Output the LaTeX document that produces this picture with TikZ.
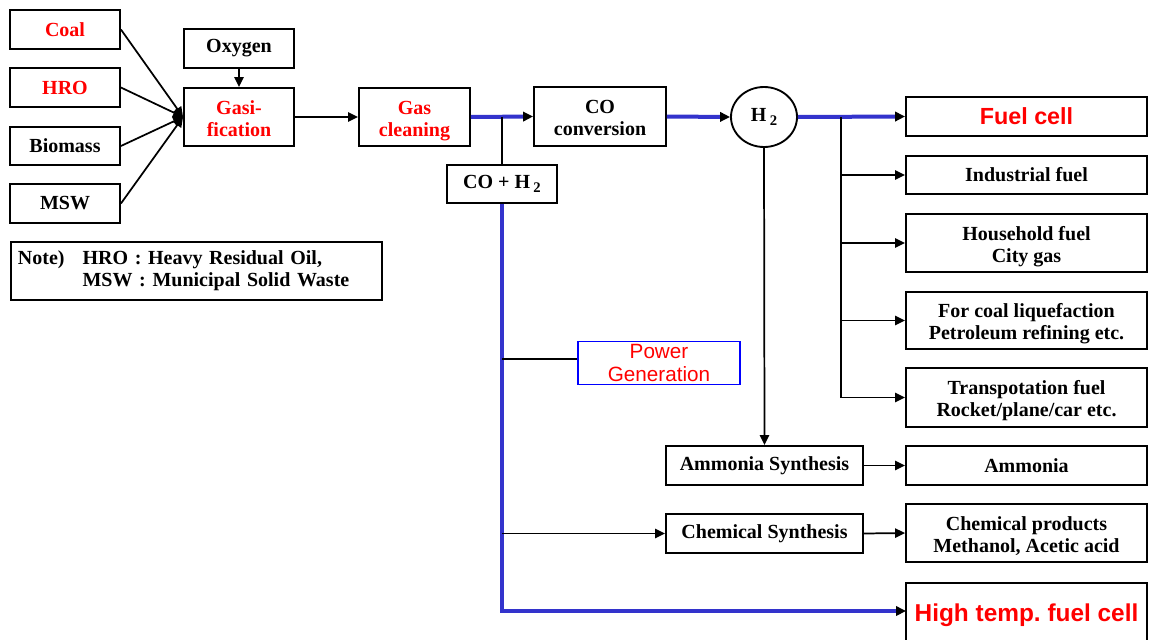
\documentclass[tikz,border=0pt]{standalone}
\usepackage{fontspec}
\setmainfont{Liberation Serif}
\setsansfont{Liberation Sans}
\usetikzlibrary{arrows.meta,shapes.geometric}
\definecolor{flowblue}{RGB}{51,51,204}
\definecolor{hot}{RGB}{255,0,0}
\definecolor{genblue}{RGB}{0,0,255}
\frenchspacing
\newcommand\boxfont{\fontsize{15}{16.5}\selectfont\bfseries}
\newcommand\bigsans{\fontsize{17.5}{20}\selectfont\sffamily\bfseries}
\newcommand\subtwo{\,\raisebox{-0.45ex}{\fontsize{11}{11}\selectfont 2}}
% two centred lines, set a little low while keeping the box size
\newcommand\twoline[2]{\raisebox{-2.8pt}[\height][\depth]{\begin{tabular}{@{}c@{}}#1\\#2\end{tabular}}}

\begin{document}
\begin{tikzpicture}[x=0.75pt,y=-0.75pt,
  box/.style={draw,line width=1.4pt,inner sep=0pt,align=center,font=\boxfont},
  sz/.style 2 args={minimum width=#1*0.75pt,minimum height=#2*0.75pt},
  hot/.style={text=hot},
  tip/.style={-{Triangle[length=7.5pt,width=7pt,color=black]}},
  link/.style={line width=1.3pt},
  arr/.style={link,tip},
  main/.style={line width=3pt,draw=flowblue},
  mainarr/.style={main,tip}]

\path[use as bounding box] (0,0) rectangle (1151,639);
\clip (0,0) rectangle (1151,639);

% feedstocks and gasifier
\node[box,sz={110}{39},hot] (coal) at (65,29.5) {Coal};
\node[box,sz={110}{39},hot] (hro) at (65,87.5) {HRO};
\node[box,sz={110}{38}] (bio) at (65,146) {Biomass};
\node[box,sz={110}{39}] (msw) at (65,203.5) {MSW};
\node[box,sz={110}{39}] (oxy) at (239,48.5) {Oxygen};
\node[box,sz={110}{58},hot] (gasi) at (239,117) {\twoline{Gasi-}{fication}};
\node[box,sz={111}{58},hot] (gascl) at (414.5,117) {\twoline{Gas}{cleaning}};

\node[box,sz={371}{58},text width=267.75pt,inner xsep=5.25pt,align=left,anchor=west] (note) at (10,271)
  {\begin{tabular}{@{}l@{\hspace{13.5pt}}l@{}}Note) & HRO : Heavy Residual Oil,\\ & MSW : Municipal Solid Waste\end{tabular}};

% syngas processing
\node[box,sz={132}{59}] (coconv) at (600,116.5) {\twoline{CO}{conversion}};
\node[box,sz={110}{38}] (coh) at (502,184) {CO + H\subtwo};
\node[draw,line width=1.4pt,ellipse,inner sep=0pt,sz={66}{60},font=\boxfont] (h2) at (764,117) {H\subtwo};

% hydrogen uses
\node[box,sz={241}{39},font=\bigsans,hot] (fuel) at (1026.5,116.5) {Fuel cell};
\node[box,sz={241}{38}] (ind) at (1026.5,175) {Industrial fuel};
\node[box,sz={241}{58}] (house) at (1026.5,243) {\twoline{Household fuel}{City gas}};
\node[box,sz={241}{57}] (liq) at (1026.5,320.5) {\twoline{For coal liquefaction}{Petroleum refining etc.}};
\node[box,sz={241}{59}] (trans) at (1026.5,397.5) {\twoline{Transpotation fuel}{Rocket/plane/car etc.}};

% synthesis routes
\node[box,sz={197}{39}] (ammsyn) at (764.5,465.5) {Ammonia Synthesis};
\node[box,sz={241}{39}] (amm) at (1026.5,465.5) {Ammonia};
\node[box,sz={197}{39}] (chemsyn) at (764.5,533.5) {Chemical Synthesis};
\node[box,sz={241}{58}] (chem) at (1026.5,533) {\twoline{Chemical products}{Methanol, Acetic acid}};
\node[box,sz={241}{64},font=\fontsize{18.3}{20}\selectfont\sffamily\bfseries,hot] (htfc) at (1026.5,615) {High temp. fuel cell};
\node[draw=genblue,line width=1.3pt,inner sep=0pt,sz={162}{43},align=center,text=hot,
      font=\fontsize{15.5}{17.5}\selectfont\sffamily] (power) at (659,363) {Power\\Generation};

% junction points
\coordinate (j1) at (502,117);
\coordinate (fan) at (841,117);
\coordinate (pg) at (502,359);
\coordinate (cs) at (502,533.5);
\coordinate (hin) at (906,611);

% connectors into the gasifier
\foreach \s in {coal,hro,bio,msw} \draw[arr] (\s.east) -- (gasi.west);
\draw[arr] (oxy.south) -- (gasi.north);
\draw[arr] (gasi.east) -- (gascl.west);

% main syngas / hydrogen line
\draw[mainarr] (gascl.east) -- (coconv.west);
\draw[mainarr] (coconv.east) -- (h2.west);
\draw[mainarr] (h2.east) -- (fuel.west);
\draw[link] (j1) -- (coh.north);
\draw[mainarr] (coh.south) |- (hin);

% hydrogen distribution
\draw[link] (fan) -- (fan |- trans.west);
\foreach \t in {ind,house,liq,trans} \draw[arr] (fan |- \t.west) -- (\t.west);
\draw[arr] (h2.south) -- (ammsyn.north);
\draw[arr] (ammsyn.east) -- (amm.west);
\draw[arr] (chemsyn.east) -- (chem.west);

% syngas branches
\draw[link] (pg) -- (pg -| power.west);
\draw[arr] (cs) -- (chemsyn.west);
\end{tikzpicture}
\end{document}
